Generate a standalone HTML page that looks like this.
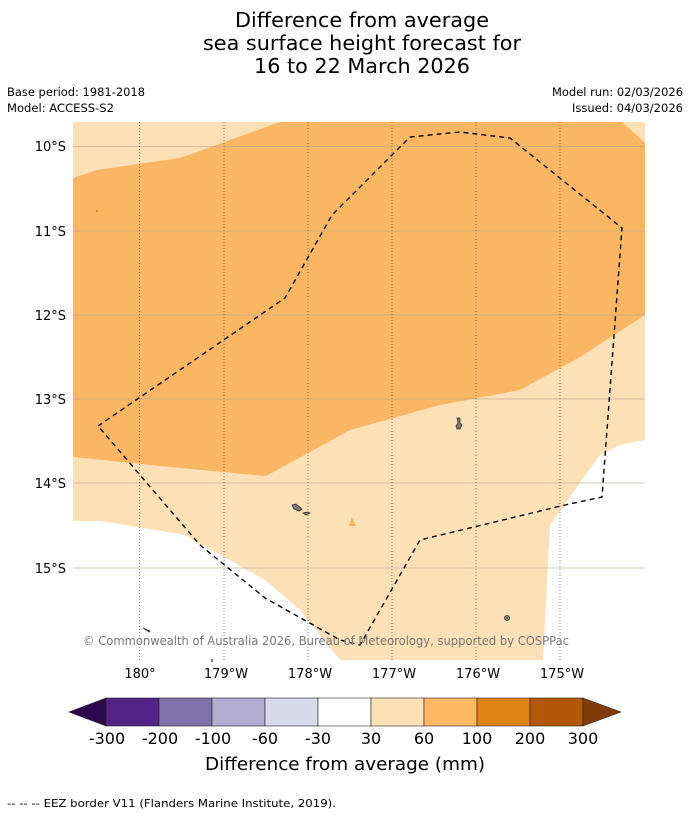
<!DOCTYPE html>
<html><head><meta charset="utf-8"><style>
body{margin:0;background:#fff;font-family:"DejaVu Sans",sans-serif;}
#wrap{position:relative;width:690px;height:816px;overflow:hidden}
</style></head><body><div id="wrap">
<svg width="690" height="816" xmlns="http://www.w3.org/2000/svg" font-family="DejaVu Sans, sans-serif">
<g font-size="20" text-anchor="middle" fill="#000">
<text x="362" y="27" textLength="254" lengthAdjust="spacingAndGlyphs">Difference from average</text>
<text x="362" y="50" textLength="318" lengthAdjust="spacingAndGlyphs">sea surface height forecast for</text>
<text x="362" y="73" textLength="216" lengthAdjust="spacingAndGlyphs">16 to 22 March 2026</text></g>
<g font-size="11.5" fill="#000">
<text x="7" y="96" textLength="138" lengthAdjust="spacingAndGlyphs">Base period: 1981-2018</text>
<text x="7" y="112" textLength="107" lengthAdjust="spacingAndGlyphs">Model: ACCESS-S2</text>
<text x="683" y="96" text-anchor="end" textLength="131" lengthAdjust="spacingAndGlyphs">Model run: 02/03/2026</text>
<text x="683" y="112" text-anchor="end" textLength="111" lengthAdjust="spacingAndGlyphs">Issued: 04/03/2026</text></g>
<defs><clipPath id="mc"><rect x="73" y="122" width="572" height="538"/></clipPath></defs>
<g clip-path="url(#mc)">
<rect x="73" y="122" width="572" height="538" fill="#fff"/>
<polygon fill="#fde0b6" points="73,122 645,122 645,440 620,445 600,455 550,525 543,660 340,660 300,610 265,580 185,535 100,521 73,521"/>
<polygon fill="#fab662" points="73,178 97,170 180,158 280,122 622,122 645,143 645,315 580,357 520,390 440,405 350,430 266,476 180,468 73,457"/>
<circle cx="97" cy="211" r="1.2" fill="#e08a20"/>
<polygon fill="#fab662" points="349,526 352,517 356,526"/>
<g fill="#7a7a7a" stroke="#333" stroke-width="0.8">
<path d="M457,418 l3,0 l0,5 l2,2 l-2,4 l-3,0 l-1,-3 l2,-3z"/>
<path d="M292,505 l4,-1 l6,5 l-3,2 l-5,-2z"/><path d="M303,513 l5,-1 l2,1 l-4,2z"/>
<circle cx="507" cy="618" r="2.5"/><path d="M143,628 l7,3 l-1,1z"/></g>
<g stroke="#b8a48c" stroke-opacity="0.6" stroke-width="1">
<line x1="73" x2="645" y1="146.5" y2="146.5"/><line x1="73" x2="645" y1="231" y2="231"/><line x1="73" x2="645" y1="315" y2="315"/><line x1="73" x2="645" y1="399" y2="399"/><line x1="73" x2="645" y1="483" y2="483"/><line x1="73" x2="645" y1="568" y2="568"/></g>
<g stroke="#666" stroke-width="0.8" stroke-dasharray="1,2">
<line y1="122" y2="660" x1="139.5" x2="139.5"/><line y1="122" y2="660" x1="224" x2="224"/><line y1="122" y2="660" x1="308" x2="308"/><line y1="122" y2="660" x1="392" x2="392"/><line y1="122" y2="660" x1="476" x2="476"/><line y1="122" y2="660" x1="560" x2="560"/></g>
<polygon fill="none" stroke="#000" stroke-width="1.4" stroke-dasharray="5,4" points="98,426 285,298 332,215 410,137 460,132 510,138 622,228 602,497 565,505 420,540 360,645 340,640 265,598 200,545"/>
<text x="326" y="645" font-size="12" fill="#777" text-anchor="middle" textLength="486" lengthAdjust="spacingAndGlyphs">© Commonwealth of Australia 2026, Bureau of Meteorology, supported by COSPPac</text>
</g>
<line x1="212" y1="659" x2="212" y2="662" stroke="#000"/>
<g font-size="13" text-anchor="end" fill="#000">
<text x="66" y="151">10°S</text><text x="66" y="236">11°S</text><text x="66" y="320">12°S</text><text x="66" y="404">13°S</text><text x="66" y="488">14°S</text><text x="66" y="573">15°S</text></g>
<g font-size="13" text-anchor="middle" fill="#000">
<text x="140" y="678">180°</text><text x="226" y="678">179°W</text><text x="310" y="678">178°W</text><text x="394" y="678">177°W</text><text x="478" y="678">176°W</text><text x="562" y="678">175°W</text></g>
<g stroke="#222" stroke-width="0.6">
<polygon points="106,698 106,726 69,712" fill="#2d0a4d"/>
<rect x="106" y="698" width="53" height="28" fill="#542388"/>
<rect x="159" y="698" width="53" height="28" fill="#8073ac"/>
<rect x="212" y="698" width="53" height="28" fill="#b2abd2"/>
<rect x="265" y="698" width="53" height="28" fill="#d8daeb"/>
<rect x="318" y="698" width="53" height="28" fill="#ffffff"/>
<rect x="371" y="698" width="53" height="28" fill="#fee0b6"/>
<rect x="424" y="698" width="53" height="28" fill="#fdb863"/>
<rect x="477" y="698" width="53" height="28" fill="#e08214"/>
<rect x="530" y="698" width="53" height="28" fill="#b35806"/>
<polygon points="583,698 583,726 621,712" fill="#7f3b08"/></g>
<g font-size="16" text-anchor="middle" fill="#000">
<text x="107" y="744">-300</text><text x="160" y="744">-200</text><text x="213" y="744">-100</text><text x="265" y="744">-60</text><text x="318" y="744">-30</text><text x="371" y="744">30</text><text x="424" y="744">60</text><text x="477" y="744">100</text><text x="530" y="744">200</text><text x="583" y="744">300</text></g>
<text x="345" y="770" font-size="18" text-anchor="middle" textLength="280" lengthAdjust="spacingAndGlyphs">Difference from average (mm)</text>
<text x="7" y="807" font-size="11" textLength="329" lengthAdjust="spacingAndGlyphs">--  --  -- EEZ border V11 (Flanders Marine Institute, 2019).</text>
</svg></div></body></html>
